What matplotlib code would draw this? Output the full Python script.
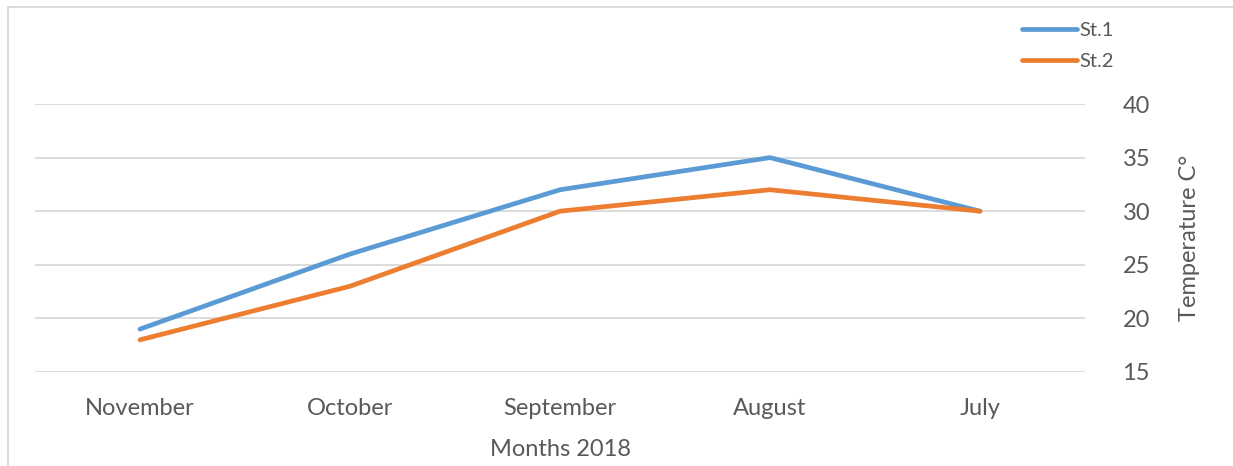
import matplotlib.pyplot as plt
from matplotlib.patches import Rectangle

months = ['November', 'October', 'September', 'August', 'July']
st1 = [19, 26, 32, 35, 30]
st2 = [18, 23, 30, 32, 30]
yticks = [15, 20, 25, 30, 35, 40]

plt.rcParams['font.family'] = ['Lato', 'DejaVu Sans']
text_color = '#595959'

fig = plt.figure(figsize=(12.33, 4.66), dpi=100)
ax = fig.add_axes([35 / 1233, 1 - 372 / 466, 1050 / 1233, 268 / 466])

x = range(len(months))
ax.plot(x, st1, color='#5B9BD5', lw=3.4, solid_capstyle='round', label='St.1')
ax.plot(x, st2, color='#ED7D31', lw=3.4, solid_capstyle='round', label='St.2')

ax.set_xlim(-0.5, len(months) - 0.5)
ax.set_ylim(15, 40)
ax.set_xticks(list(x))
ax.set_xticklabels(months)
ax.set_yticks(yticks)
ax.yaxis.tick_right()
ax.yaxis.set_label_position('right')
ax.tick_params(axis='both', length=0, labelsize=17, colors=text_color)
ax.tick_params(axis='y', pad=27)
ax.tick_params(axis='x', pad=19)
ax.grid(axis='y', color='#D9D9D9', lw=1.3)
ax.set_axisbelow(True)
for s in ax.spines.values():
    s.set_visible(False)

ax.set_xlabel('Months 2018', fontsize=17, color=text_color, labelpad=14)
ax.set_ylabel('Temperature C°', fontsize=17, color=text_color, labelpad=21)

leg = fig.legend(loc='upper left', bbox_to_anchor=(1004 / 1233, 1 - 4 / 466),
                 frameon=False, fontsize=14.5, handlelength=2.7, handletextpad=0.15,
                 labelspacing=0.7, labelcolor=text_color)

# chart border (only left and top edges are visible in the crop)
fig.patches.append(Rectangle((8 / 1233, -0.1), 1.2, 1.1 - 7 / 466,
                             transform=fig.transFigure, fill=False,
                             edgecolor='#D9D9D9', lw=1.3))

fig.savefig('out.png', dpi=100)
